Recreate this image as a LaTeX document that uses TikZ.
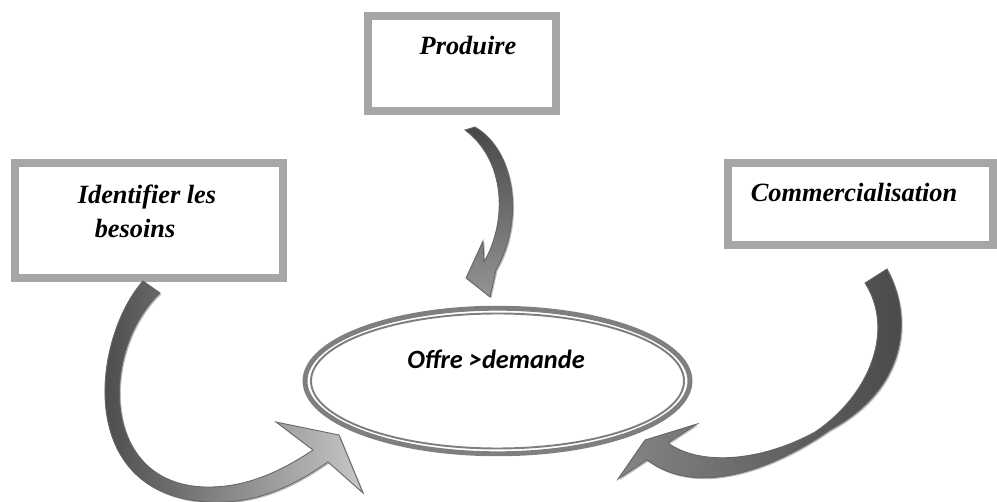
\documentclass[tikz,border=0pt]{standalone}
\usepackage{fontspec}
\setmainfont{Liberation Serif}
\newfontfamily\offrefont{Carlito}
\usetikzlibrary{shapes.geometric,shadows}

\definecolor{framegray}{HTML}{A6A6A6}
\definecolor{ringgray}{HTML}{7F7F7F}
\definecolor{edgegray}{HTML}{666666}

\tikzset{
  stepframe/.style={draw=framegray, line width=4.5pt, rectangle, inner sep=0pt},
  steplabel/.style={font=\fontsize{15}{19.4}\selectfont\bfseries\itshape, align=center, inner sep=0pt},
  ring/.style={draw=ringgray, line width=2.8pt, ellipse, inner sep=0pt},
  bentarrow/.style={draw=edgegray, line width=0.5pt, line join=miter,
                    drop shadow={shadow xshift=0.8pt, shadow yshift=-0.8pt, fill=black!25, opacity=1}},
}

\begin{document}
\begin{tikzpicture}[x=0.02cm, y=-0.02cm]
  \useasboundingbox (0,0) rectangle (997,502);

  % boxes
  \node[stepframe, minimum width=3.76cm, minimum height=1.9cm]  (prod)     at (462,63.5)  {};
  \node[stepframe, minimum width=5.36cm, minimum height=2.3cm]  (besoins)  at (149,220.5) {};
  \node[stepframe, minimum width=5.3cm,  minimum height=1.64cm] (commerce) at (860.5,204) {};
  \node[steplabel, anchor=base]   (prod-txt)     at (468,55)  {Produire};
  \node[steplabel, anchor=center] (besoins-txt)  at (147,211) {Identifier les\\besoins\hspace*{13.6pt}};
  \node[steplabel, anchor=base]   (commerce-txt) at (854,202) {Commercialisation};

  % centre
  \node[ring, minimum width=7.7cm, minimum height=2.912cm] (offre) at (497.5,381) {};
  \draw[ringgray, line width=1.1pt] (offre.center) ellipse (186.5 and 67.5);
  \node[steplabel, font=\fontsize{15}{18}\selectfont\offrefont\bfseries\itshape, anchor=base] (offre-txt) at (496,369) {Offre >demande};

  % curved arrows
  \draw[bentarrow, top color=black!72, bottom color=black!42]
    (465,130) -- (475,127) .. controls (515,150) and (525,220) .. (496,270)
    -- (490,297) -- (466,278) -- (483,241) -- (484,262)
    .. controls (508,220) and (505,160) .. cycle;
  \draw[bentarrow, left color=black!75, right color=black!22]
    (143,281) .. controls (95,335) and (75,480) .. (190,500)
    .. controls (250,510) and (295,485) .. (328,462)
    -- (363,493) -- (339,435) -- (276,422) -- (313,450)
    .. controls (280,472) and (245,488) .. (205,487)
    .. controls (100,484) and (100,350) .. (160,293) -- cycle;
  \draw[bentarrow, left color=black!48, right color=black!72]
    (887,269) .. controls (915,320) and (905,390) .. (830,430)
    .. controls (780,465) and (700,500) .. (647,460)
    -- (618,479) -- (645,440) -- (697,424) -- (668,443)
    .. controls (700,466) and (760,462) .. (815,432)
    .. controls (870,395) and (895,330) .. (865,283) -- cycle;
\end{tikzpicture}
\end{document}
